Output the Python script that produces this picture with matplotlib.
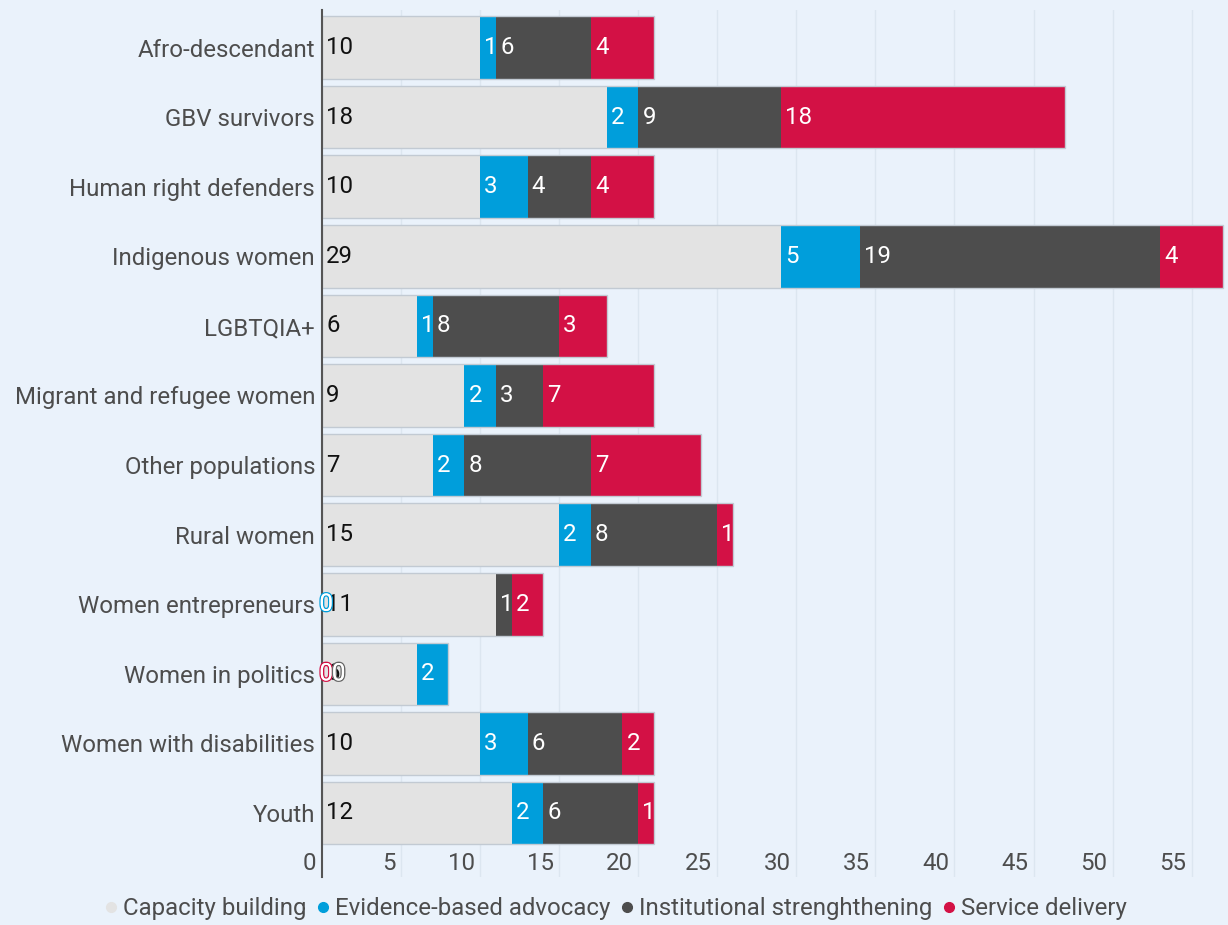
import matplotlib.pyplot as plt
import matplotlib.patheffects as pe
import numpy as np

plt.rcParams['font.family'] = ['Roboto', 'DejaVu Sans']

categories = ['Afro-descendant', 'GBV survivors', 'Human right defenders',
              'Indigenous women', 'LGBTQIA+', 'Migrant and refugee women',
              'Other populations', 'Rural women', 'Women entrepreneurs',
              'Women in politics', 'Women with disabilities', 'Youth']
capacity = [10, 18, 10, 29, 6, 9, 7, 15, 11, 6, 10, 12]
evidence = [1, 2, 3, 5, 1, 2, 2, 2, 0, 2, 3, 2]
institutional = [6, 9, 4, 19, 8, 3, 8, 8, 1, 0, 6, 6]
service = [4, 18, 4, 4, 3, 7, 7, 1, 2, 0, 2, 1]
series_names = ['Capacity building', 'Evidence-based advocacy',
                'Institutional strenghthening', 'Service delivery']
x_ticks = [0, 5, 10, 15, 20, 25, 30, 35, 40, 45, 50, 55]

colors = ['#e3e3e3', '#009edb', '#4d4d4d', '#d31145']
label_colors = ['#111111', 'white', 'white', 'white']
bg = '#eaf2fb'
text_c = '#4d4d4d'
fs = 17.3

W, H = 1228, 925
fig = plt.figure(figsize=(W / 100, H / 100), dpi=100, facecolor=bg)
ax = fig.add_axes([322 / W, 1 - 877 / H, (W - 322) / W, (877 - 10) / H])
ax.set_facecolor(bg)

series = [capacity, evidence, institutional, service]
y = np.arange(len(categories))
left = np.zeros(len(categories))
bar_h = 0.9

# gridlines
for t in x_ticks[1:]:
    ax.axvline(t, color='#dce6f0', lw=1, zorder=0)

for k, vals in enumerate(series):
    vals = np.array(vals, dtype=float)
    ax.barh(y, vals, height=bar_h, left=left, color=colors[k], lw=0, zorder=2)
    for i, v in enumerate(vals):
        if v > 0:
            ax.annotate(str(int(v)), (left[i], y[i]), xytext=(3, 0),
                        textcoords='offset points', va='center', ha='left',
                        fontsize=fs, color=label_colors[k], zorder=5)
    left = left + vals

# thin outline around each stacked bar
ax.barh(y, left, height=bar_h, fill=False, edgecolor='#c2cad3', lw=1, zorder=3)

# zero labels drawn at the start of the bar with coloured outline
zero_offsets = {1: 3, 2: 12, 3: 3}
for k in (3, 2, 1):
    for i, v in enumerate(series[k]):
        if v == 0:
            ax.annotate('0', (0, y[i]), xytext=(zero_offsets[k], 0),
                        textcoords='offset points', va='center', ha='center',
                        fontsize=fs, color='white', zorder=6,
                        path_effects=[pe.withStroke(linewidth=2, foreground=colors[k] if k != 2 else '#666666'),
                                      pe.Normal()])

ax.set_xlim(0, 57.3)
ax.set_ylim(11.92, -0.54)

ax.set_yticks(y)
ax.set_yticklabels(categories, fontsize=fs, color=text_c)
ax.tick_params(axis='y', length=0, pad=5)
ax.set_xticks([])

for t in x_ticks:
    ax.annotate(str(t), (t, 11.72), xytext=(-4, 0), textcoords='offset points',
                ha='right', va='center', fontsize=fs, color=text_c)

for s in ['top', 'right', 'bottom']:
    ax.spines[s].set_visible(False)
ax.spines['left'].set_color('#555555')
ax.spines['left'].set_linewidth(1.5)
ax.spines['left'].set_zorder(4)

handles = [plt.Line2D([], [], marker='o', ls='', color=c, markersize=7) for c in colors]
fig.legend(handles, series_names, loc='center', bbox_to_anchor=(0.5, 1 - 909 / H),
           ncol=4, frameon=False, fontsize=fs, labelcolor=text_c,
           handletextpad=0.1, columnspacing=0.3, handlelength=0.8)

fig.savefig('out.png', dpi=100, facecolor=bg)
